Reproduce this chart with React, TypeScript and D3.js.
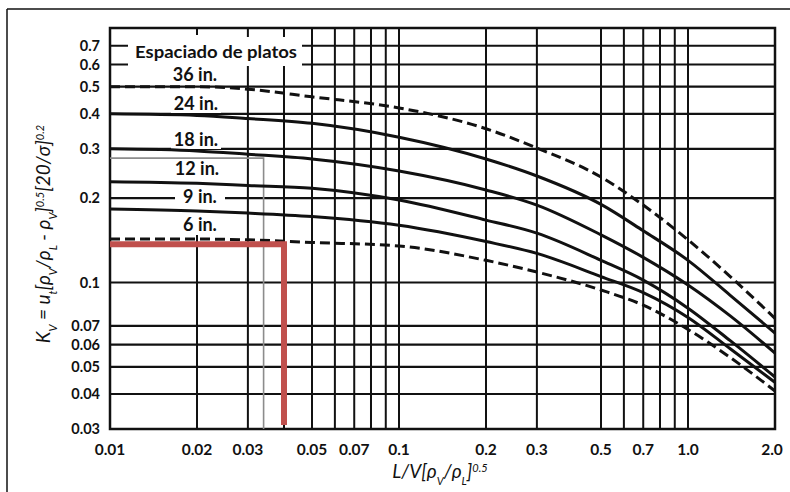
import React from 'react';
import * as d3 from 'd3';

// abscissa L/V[pv/pl]^0.5 where the curves were read
const flowParam = [0.01, 0.02, 0.03, 0.05, 0.1, 0.2, 0.3, 0.5, 0.7, 1.0, 1.4, 2.0];

// Kv
const spacing36 = [0.5, 0.5, 0.49, 0.46, 0.42, 0.354, 0.302, 0.238, 0.189, 0.142, 0.105, 0.0745];
const spacing24 = [0.4, 0.395, 0.385, 0.37, 0.33, 0.276, 0.24, 0.19, 0.153, 0.12, 0.09, 0.066];
const spacing18 = [0.3, 0.295, 0.287, 0.276, 0.25, 0.214, 0.189, 0.148, 0.123, 0.098, 0.076, 0.056];
const spacing12 = [0.229, 0.226, 0.222, 0.217, 0.197, 0.167, 0.15, 0.12, 0.102, 0.081, 0.062, 0.046];
const spacing9 = [0.183, 0.18, 0.177, 0.172, 0.16, 0.14, 0.127, 0.105, 0.092, 0.075, 0.058, 0.044];
const spacing6 = [0.143, 0.143, 0.142, 0.139, 0.135, 0.12, 0.109, 0.094, 0.083, 0.068, 0.054, 0.041];

const curveNames = ['36 in.', '24 in.', '18 in.', '12 in.', '9 in.', '6 in.'];

const xTickLabels = ['0.01', '0.02', '0.03', '0.05', '0.07', '0.1', '0.2', '0.3', '0.5', '0.7', '1.0', '2.0'];
const yTickLabels = ['0.7', '0.6', '0.5', '0.4', '0.3', '0.2', '0.1', '0.07', '0.06', '0.05', '0.04', '0.03'];
const xGrid = [0.02, 0.03, 0.04, 0.05, 0.06, 0.07, 0.08, 0.09, 0.1, 0.2, 0.3, 0.5, 0.6, 0.7, 0.8, 0.9, 1.0];
const yGrid = [0.04, 0.05, 0.06, 0.07, 0.1, 0.2, 0.3, 0.4, 0.5, 0.6, 0.7];

// the worked example drawn in red, and the grey reading line
const redPoint = [0.04, 0.137];
const redBottom = 0.031;
const greyPoint = [0.034, 0.278];

const W = 790, H = 492;
const FONT = "Lato, 'Open Sans', sans-serif";

export default function App() {
  const x = d3.scaleLog().domain([0.01, 2.0]).range([110, 775]);
  const y = d3.scaleLog().domain([0.03, 0.81]).range([429, 28]);

  const all = [spacing36, spacing24, spacing18, spacing12, spacing9, spacing6];
  const line = d3.line<[number, number]>()
    .x(d => x(d[0]))
    .y(d => y(d[1]))
    .curve(d3.curveMonotoneX);

  // label centres (pixels) next to the curves
  const labelPos = [[195, 81], [196, 110], [196, 146], [197, 175], [200, 203], [200, 231]];

  const [x0, x1] = x.range();
  const [y0, y1] = y.range();
  const sub = (s: string) => <tspan baselineShift="sub" fontSize={11}>{s}</tspan>;
  const sup = (s: string) => <tspan baselineShift="super" fontSize={11}>{s}</tspan>;

  return (
    <svg width={W} height={H} style={{position: 'absolute', left: 0, top: 0, background: '#fff'}}>
      {/* page frame */}
      <line x1={7} y1={9} x2={W} y2={9} stroke="#111" strokeWidth={1.5}/>
      <line x1={7} y1={9} x2={7} y2={H} stroke="#111" strokeWidth={1.5}/>

      {/* vertical grid */}
      {xGrid.map(v => (
        <line key={'vx' + v} x1={x(v)} x2={x(v)} y1={y1} y2={y0} stroke="#111" strokeWidth={2}/>
      ))}
      {/* label column blanks out the 0.02 line */}
      <rect x={x(0.02) - 3} y={35} width={6} height={200} fill="#fff"/>
      {/* horizontal grid */}
      {yGrid.map(v => (
        <line key={'hy' + v} x1={x0} x2={x1} y1={y(v)} y2={y(v)} stroke="#111" strokeWidth={2.2}/>
      ))}
      <rect x={x0} y={y1} width={x1 - x0} height={y0 - y1} fill="none" stroke="#111" strokeWidth={2.5}/>

      {/* label backgrounds */}
      <rect x={128} y={37} width={174} height={29} fill="#fff"/>
      {curveNames.map((n, i) => (
        <rect key={'bg' + n} x={labelPos[i][0] - 25} y={labelPos[i][1] - 14} width={50} height={17} fill="#fff"/>
      ))}

      {/* grey reading line */}
      <path d={`M${x0},${y(greyPoint[1])}H${x(greyPoint[0])}V${y0}`} fill="none" stroke="#8c8c8c" strokeWidth={1.6}/>

      {/* curves */}
      {all.map((vals, i) => {
        const pts = flowParam.map((f, j) => [f, vals[j]] as [number, number]);
        const dashed = i === 0 || i === all.length - 1;
        return (
          <path key={'c' + i} d={line(pts) || ''} fill="none" stroke="#111" strokeWidth={3}
                strokeDasharray={dashed ? '10 5' : undefined}/>
        );
      })}

      {/* red example */}
      <path d={`M${x0},${y(redPoint[1])}H${x(redPoint[0])}V${y(redBottom)}`} fill="none"
            stroke="#c0504d" strokeWidth={6}/>

      {/* labels */}
      <text x={216} y={58} textAnchor="middle" fontFamily={FONT} fontWeight={700} fontSize={17}
            textLength={162} lengthAdjust="spacingAndGlyphs" fill="#111">Espaciado de platos</text>
      {curveNames.map((n, i) => (
        <text key={'t' + n} x={labelPos[i][0]} y={labelPos[i][1]} textAnchor="middle" fontFamily={FONT}
              fontWeight={700} fontSize={18} fill="#111">{n}</text>
      ))}

      {/* tick labels */}
      {xTickLabels.map(t => (
        <text key={'xt' + t} x={Math.min(x(+t), 772)} y={455} textAnchor="middle" fontFamily={FONT}
              fontWeight={700} fontSize={15.5} fill="#111">{t}</text>
      ))}
      {yTickLabels.map(t => (
        <text key={'yt' + t} x={100} y={y(+t) + 5} textAnchor="end" fontFamily={FONT}
              fontWeight={700} fontSize={14.5} fill="#111">{t}</text>
      ))}

      {/* axis titles */}
      <text x={440} y={478} textAnchor="middle" fontFamily={FONT} fontStyle="italic" fontSize={19} fill="#111">
        L/V[ρ{sub('V')}/ρ{sub('L')}]{sup('0.5')}
      </text>
      <text transform="translate(50,234) rotate(-90)" textAnchor="middle" fontFamily={FONT} fontStyle="italic"
            fontSize={19} fill="#111">
        K{sub('V')} = u{sub('t')}[ρ{sub('V')}/ρ{sub('L')} - ρ{sub('V')}]{sup('0.5')}[20/σ]{sup('0.2')}
      </text>
    </svg>
  );
}
